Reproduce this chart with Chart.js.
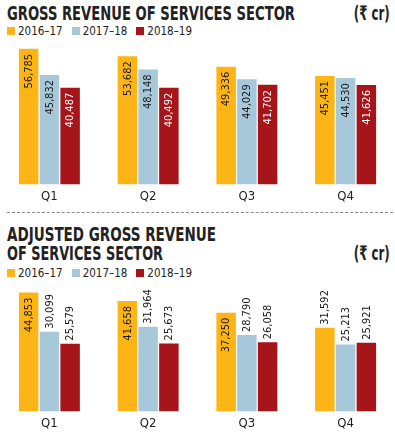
<!DOCTYPE html>
<html>
<head>
<meta charset="utf-8">
<script src="https://cdn.jsdelivr.net/npm/chart.js@4"></script>
<style>
    body { margin: 0; background: #fff; width: 395px; height: 432px; overflow: hidden; position: relative; font-family: "DejaVu Sans Condensed", "DejaVu Sans", sans-serif; color: #222; }
    .title { position: absolute; left: 7px; font-weight: bold; font-size: 20px; line-height: 20px; white-space: nowrap; transform-origin: left top; }
    .unit { position: absolute; right: 5px; font-weight: bold; font-size: 20px; line-height: 20px; transform-origin: right top; }
    .legend { position: absolute; left: 7px; font-size: 11.5px; line-height: 12px; white-space: nowrap; }
    .legend span { display: inline-block; margin-right: 9px; }
    .legend i { display: inline-block; width: 8px; height: 8px; margin-right: 3px; }
    .dash { position: absolute; left: 7px; width: 386px; top: 212px; border-top: 1.5px dashed #888; }
    canvas { position: absolute; left: 0; }
</style>
</head>
<body>
<div class="title" style="top:3px" data-w="288">GROSS REVENUE OF SERVICES SECTOR</div>
<div class="unit" style="top:3px">(₹ cr)</div>
<div class="legend" id="lg1" style="top:25px"></div>

<div class="dash"></div>

<div class="title" style="top:224px" data-w="209">ADJUSTED GROSS REVENUE</div>
<div class="title" style="top:243px" data-w="156">OF SERVICES SECTOR</div>
<div class="unit" style="top:243px">(₹ cr)</div>
<div class="legend" id="lg2" style="top:267px"></div>

<div style="position:absolute;left:0;top:43px;width:395px;height:165px"><canvas id="grossChart"></canvas></div>
<div style="position:absolute;left:0;top:283px;width:395px;height:152px"><canvas id="adjustedChart"></canvas></div>

<script>
// chart data
const quarters = ["Q1", "Q2", "Q3", "Q4"];
const years = ["2016–17", "2017–18", "2018–19"];
const colors = ["#FDB515", "#A7C8DA", "#A5151A"];

const gross1617 = [56785, 53682, 49336, 45451];
const gross1718 = [45832, 48148, 44029, 44530];
const gross1819 = [40487, 40492, 41702, 41626];

const adjusted1617 = [44853, 41658, 37250, 31592];
const adjusted1718 = [30099, 31964, 28790, 25213];
const adjusted1819 = [25579, 25673, 26058, 25921];

// squeeze titles to the width of the original condensed font
document.querySelectorAll(".title").forEach(el => {
    const w = el.getBoundingClientRect().width;
    el.style.transform = "scaleX(" + (el.dataset.w / w) + ")";
});
document.querySelectorAll(".unit").forEach(el => {
    const w = el.getBoundingClientRect().width;
    el.style.transform = "scaleX(" + (36 / w) + ")";
});

// html legends
["lg1", "lg2"].forEach(id => {
    document.getElementById(id).innerHTML = years.map((y, i) =>
        '<span><i style="background:' + colors[i] + '"></i>' + y + '</span>').join("");
});

// rotated value labels, inside the bar when it is tall enough
const barLabels = {
    id: "barLabels",
    afterDatasetsDraw(chart) {
        const ctx = chart.ctx;
        ctx.save();
        ctx.font = "11px 'DejaVu Sans Condensed'";
        ctx.textBaseline = "middle";
        chart.data.datasets.forEach((ds, di) => {
            chart.getDatasetMeta(di).data.forEach((bar, i) => {
                const text = ds.data[i].toLocaleString("en-US");
                const inside = bar.base - bar.y > 90;
                ctx.save();
                ctx.translate(bar.x + 0.5, inside ? bar.y + 5 : bar.y - 3);
                ctx.rotate(-Math.PI / 2);
                if (inside) {
                    ctx.textAlign = "right";
                    ctx.fillStyle = di === 2 ? "#fff" : "#1a1a1a";
                } else {
                    ctx.textAlign = "left";
                    ctx.fillStyle = "#1a1a1a";
                }
                ctx.fillText(text, 0, 0);
                ctx.restore();
            });
        });
        ctx.restore();
    }
};

function makeChart(id, series, yMax) {
    const ctx = document.getElementById(id).getContext("2d");
    return new Chart(ctx, {
        type: "bar",
        data: {
            labels: quarters,
            datasets: series.map((s, i) => ({
                label: years[i],
                data: s,
                backgroundColor: colors[i],
                categoryPercentage: 0.63,
                barPercentage: 0.94
            }))
        },
        options: {
            responsive: true,
            maintainAspectRatio: false,
            animation: false,
            layout: { padding: 0 },
            plugins: { legend: { display: false }, tooltip: { enabled: false } },
            scales: {
                x: {
                    grid: { display: false, drawTicks: false },
                    border: { display: false },
                    ticks: { color: "#222", font: { family: "DejaVu Sans Condensed", size: 13 }, padding: 4 }
                },
                y: { display: false, beginAtZero: true, min: 0, max: yMax }
            }
        },
        plugins: [barLabels]
    });
}

makeChart("grossChart", [gross1617, gross1718, gross1819], 59240);
makeChart("adjustedChart", [adjusted1617, adjusted1718, adjusted1819], 48460);
</script>
</body>
</html>
